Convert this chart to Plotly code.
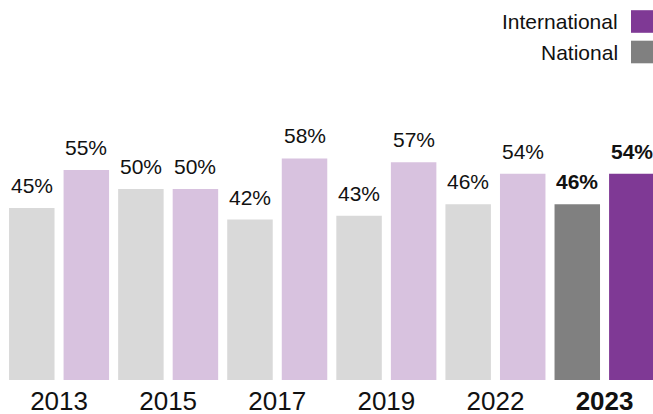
import plotly.graph_objects as go

years = ["2013", "2015", "2017", "2019", "2022", "2023"]
tick_labels = ["2013", "2015", "2017", "2019", "2022", "<b>2023</b>"]
national = [45, 50, 42, 43, 46, 46]
international = [55, 50, 58, 57, 54, 54]

nat_colors = ["#d9d9d9"] * 5 + ["#808080"]
int_colors = ["#d8c2df"] * 5 + ["#7f3995"]

FONT = "Liberation Sans, Arial, sans-serif"
W, H = 653, 414
T, B = 80, 34
PH = H - T - B
SLOT = 109.1
X0 = -0.5 - 4.5 / SLOT


def py(p):
    """figure pixel row -> paper y"""
    return 1 - (p - T) / PH


fig = go.Figure()
fig.add_trace(go.Bar(name="National", x=years, y=national,
                     marker=dict(color=nat_colors, line=dict(width=0)),
                     hoverinfo="skip"))
fig.add_trace(go.Bar(name="International", x=years, y=international,
                     marker=dict(color=int_colors, line=dict(width=0)),
                     hoverinfo="skip"))

annotations = []
for i, yr in enumerate(years):
    bold = (i == len(years) - 1)
    for val, shift in ((national[i], -SLOT / 4), (international[i], SLOT / 4)):
        txt = f"{val}%"
        if bold:
            txt = f"<b>{txt}</b>"
        annotations.append(dict(x=i, y=val, xref="x", yref="y", text=txt,
                                showarrow=False, xshift=shift, yshift=9,
                                yanchor="bottom", xanchor="center",
                                font=dict(family=FONT, size=21, color="#111111")))

# custom legend (text left of square, right aligned)
legend_items = [("International", "#7f3995", 21.5), ("National", "#808080", 52)]
shapes = []
for name, col, yc in legend_items:
    annotations.append(dict(xref="paper", yref="paper", x=620 / W,
                            y=py(yc), text=name, showarrow=False,
                            xanchor="right", yanchor="middle",
                            font=dict(family=FONT, size=21, color="#111111")))
    shapes.append(dict(type="rect", xref="paper", yref="paper",
                       x0=631 / W, x1=653 / W,
                       y0=py(yc + 11.3), y1=py(yc - 11.3),
                       fillcolor=col, line=dict(width=0)))

fig.update_layout(
    width=W, height=H,
    margin=dict(l=0, r=0, t=T, b=B, pad=0),
    paper_bgcolor="white", plot_bgcolor="white",
    barmode="group", bargap=0, bargroupgap=0.166,
    showlegend=False,
    annotations=annotations, shapes=shapes,
    font=dict(family=FONT, color="#111111"),
    xaxis=dict(type="category", range=[X0, X0 + W / SLOT],
               tickmode="array", tickvals=years, ticktext=tick_labels,
               tickfont=dict(family=FONT, size=26, color="#111111"),
               ticklabelstandoff=3, automargin=False,
               showgrid=False, zeroline=False, showline=False, ticks=""),
    yaxis=dict(range=[0, PH / 3.82], visible=False, showgrid=False,
               zeroline=False),
)

fig.write_html(
    "out.html",
    config={"displayModeBar": False, "staticPlot": True},
    post_script="document.body.style.margin='0px';"
                "document.body.style.overflow='hidden';",
)
